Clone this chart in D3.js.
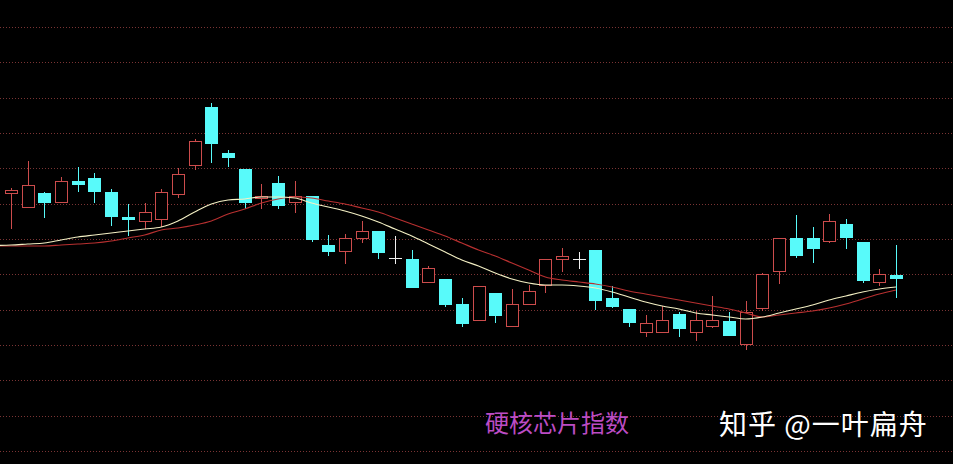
<!DOCTYPE html>
<html><head><meta charset="utf-8">
<script src="https://cdn.jsdelivr.net/npm/d3@7"></script>
<style>html,body{margin:0;padding:0;background:#000;overflow:hidden}</style>
</head><body>
<svg id="chart" width="953" height="464"></svg>
<script>
// ---- data (index points) ----
const dayIndex = d3.range(54);
const openVals  = [1516,1488,1516,1498,1540,1546,1518,1468,1460,1464,1514,1572,1688,1596,1564,1506,1536,1498,1510,1412,1400,1426,1440,1386,1384,1338,1344,1294,1262,1316,1250,1294,1332,1384,1384,1402,1306,1284,1238,1238,1274,1238,1250,1260,1214,1286,1360,1426,1426,1420,1454,1418,1338,1352];
const closeVals = [1522,1532,1496,1540,1532,1518,1468,1462,1478,1518,1554,1620,1614,1586,1496,1510,1490,1510,1422,1398,1426,1440,1396,1386,1326,1366,1292,1254,1330,1270,1294,1320,1384,1390,1384,1300,1288,1256,1256,1262,1244,1262,1262,1230,1278,1354,1426,1390,1404,1460,1426,1340,1354,1344];
const highVals  = [1526,1580,1518,1548,1568,1556,1524,1494,1496,1524,1566,1624,1696,1602,1564,1534,1550,1540,1510,1432,1434,1460,1440,1430,1402,1370,1344,1306,1330,1316,1324,1332,1384,1406,1398,1402,1330,1284,1272,1290,1278,1280,1310,1278,1300,1356,1426,1472,1448,1474,1464,1418,1364,1412];
const lowVals   = [1444,1488,1466,1496,1518,1496,1450,1430,1444,1448,1506,1562,1576,1568,1484,1484,1484,1476,1418,1390,1374,1416,1384,1374,1326,1336,1288,1248,1262,1256,1250,1294,1316,1358,1364,1282,1286,1248,1228,1238,1228,1220,1246,1230,1202,1280,1334,1386,1376,1416,1404,1336,1330,1306];
// moving averages: first value belongs to the day before the first candle
const maIndex = d3.range(-1, 54);
const maShort = [1411,1412,1414,1416,1422,1428,1432,1436,1440,1444,1448,1460,1478,1494,1502,1504,1508,1508,1506,1496,1488,1480,1470,1458,1444,1430,1414,1398,1382,1370,1356,1344,1336,1332,1332,1330,1326,1318,1308,1298,1290,1284,1276,1272,1268,1264,1268,1276,1284,1292,1302,1310,1318,1324,1328];
const maLong  = [1410,1410,1410,1410,1412,1414,1416,1420,1426,1432,1442,1446,1452,1460,1474,1484,1496,1504,1508,1506,1500,1494,1486,1478,1466,1454,1442,1430,1416,1402,1390,1376,1362,1348,1342,1338,1334,1328,1320,1314,1308,1302,1296,1290,1284,1276,1268,1272,1276,1280,1286,1294,1304,1314,1322];
const gridLevels = d3.range(13).map(k => 1000 + k * 848 / 12);
const titleText = "硬核芯片指数";
const watermarkText = "知乎 @一叶扁舟";

// ---- drawing ----
const svg = d3.select("#chart");
svg.append("rect").attr("width",953).attr("height",464).attr("fill","#000");

const x = d3.scaleLinear().domain([0, 53]).range([11, 896]);
const y = d3.scaleLinear().domain([1000, 1848]).range([451, 27]);
const bodyW = 13;

const UP = "#cc4c4c", DOWN = "#58fafa", FLAT = "#f0f0f0";

svg.append("g").selectAll("line").data(gridLevels).join("line")
  .attr("x1",0).attr("x2",953)
  .attr("y1",d=>Math.round(y(d))+0.5).attr("y2",d=>Math.round(y(d))+0.5)
  .attr("stroke","#7a3434").attr("stroke-width",1).attr("stroke-dasharray","1,2");

const candles = dayIndex.map(i => ({i, o:openVals[i], c:closeVals[i], h:highVals[i], l:lowVals[i]}));
const colorOf = d => d.c > d.o ? UP : (d.c < d.o ? DOWN : FLAT);
const px = v => Math.round(v) + 0.5;

const cg = svg.append("g");
const g = cg.selectAll("g").data(candles).join("g");
g.append("line")
  .attr("x1",d=>px(x(d.i))).attr("x2",d=>px(x(d.i)))
  .attr("y1",d=>y(d.h)).attr("y2",d=>y(d.l))
  .attr("stroke",colorOf).attr("stroke-width",1);
g.each(function(d){
  const sel = d3.select(this);
  const top = y(Math.max(d.o,d.c)), bot = y(Math.min(d.o,d.c));
  const cx = Math.round(x(d.i));
  if (d.c > d.o) {
    sel.append("rect")
      .attr("x",cx - 6 + 0.5).attr("y",px(top))
      .attr("width",bodyW-1).attr("height",Math.max(1,Math.round(bot-top)))
      .attr("fill","#000").attr("stroke",UP).attr("stroke-width",1);
  } else if (d.c < d.o) {
    sel.append("rect")
      .attr("x",cx - 6).attr("y",Math.round(top))
      .attr("width",bodyW).attr("height",Math.max(1,Math.round(bot-top)))
      .attr("fill",DOWN);
  } else {
    sel.append("line")
      .attr("x1",cx - 6).attr("x2",cx + 7)
      .attr("y1",px(top)).attr("y2",px(top))
      .attr("stroke",FLAT).attr("stroke-width",1);
  }
});

const lineGen = arr => d3.line().x((d,k)=>x(maIndex[k])).y(d=>y(d)).curve(d3.curveMonotoneX)(arr);
svg.append("path").attr("d",lineGen(maLong)).attr("fill","none").attr("stroke","#b83030").attr("stroke-width",1.1);
svg.append("path").attr("d",lineGen(maShort)).attr("fill","none").attr("stroke","#f4f0c4").attr("stroke-width",1.1);

svg.append("text").attr("x",485).attr("y",432)
  .attr("font-family","'Noto Sans CJK SC', sans-serif").attr("font-size",24)
  .attr("fill","#bc4cc4").text(titleText);
svg.append("text").attr("x",719).attr("y",435)
  .attr("font-family","'Noto Sans CJK SC', sans-serif").attr("font-size",28).attr("font-weight",400)
  .attr("letter-spacing",1).attr("fill","#ffffff").text(watermarkText);
</script>
</body></html>
